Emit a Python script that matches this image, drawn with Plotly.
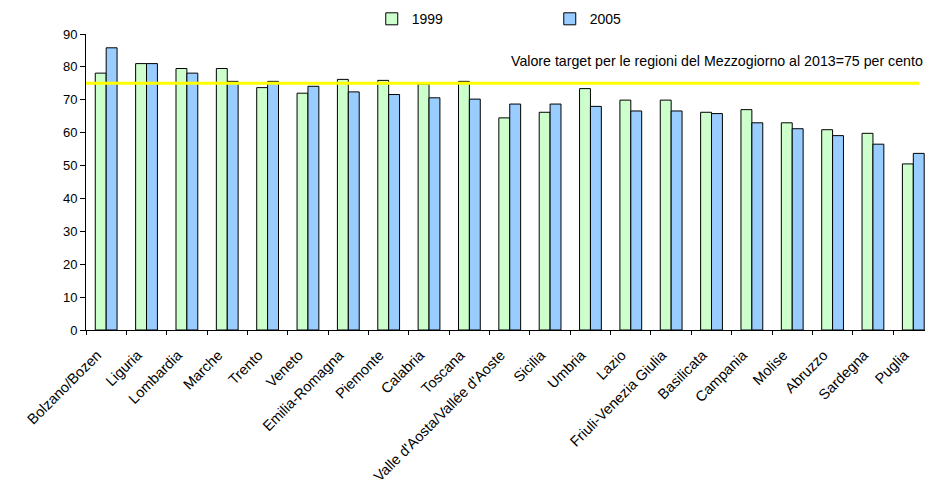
import plotly.graph_objects as go

regions = ["Bolzano/Bozen", "Liguria", "Lombardia", "Marche", "Trento", "Veneto",
           "Emilia-Romagna", "Piemonte", "Calabria", "Toscana",
           "Valle d'Aosta/Vallée d'Aoste", "Sicilia", "Umbria", "Lazio",
           "Friuli-Venezia Giulia", "Basilicata", "Campania", "Molise",
           "Abruzzo", "Sardegna", "Puglia"]
v1999 = [78.1, 81.0, 79.5, 79.5, 73.7, 72.0, 76.2, 75.9, 74.8, 75.6,
         64.5, 66.2, 73.4, 69.9, 69.9, 66.2, 67.0, 63.0, 60.9, 59.8, 50.5]
v2005 = [85.8, 81.0, 78.1, 75.6, 75.6, 74.1, 72.4, 71.6, 70.6, 70.2,
         68.7, 68.7, 68.0, 66.6, 66.6, 65.8, 63.0, 61.2, 59.1, 56.5, 53.7]
target = 75
target_label = "Valore target per le regioni del Mezzogiorno al 2013=75 per cento"

fig = go.Figure()
fig.add_trace(go.Bar(x=regions, y=v1999, name="1999",
                     marker=dict(color="#CCFFCC", line=dict(color="black", width=1))))
fig.add_trace(go.Bar(x=regions, y=v2005, name="2005",
                     marker=dict(color="#99CCFF", line=dict(color="black", width=1))))

fig.add_shape(type="line", xref="x domain", yref="y", x0=0, x1=0.993,
              y0=target, y1=target, line=dict(color="#FFFF00", width=3))
fig.add_annotation(text=target_label, xref="paper", yref="y", x=0.9995, y=81.7,
                   xanchor="right", yanchor="middle", showarrow=False,
                   font=dict(size=14.2, color="black"))

fig.update_layout(
    width=925, height=483,
    margin=dict(l=86, r=0, t=34, b=153, autoexpand=False),
    paper_bgcolor="white", plot_bgcolor="white",
    font=dict(family="Liberation Sans, Arial, sans-serif", size=13, color="black"),
    barmode="group", bargap=0.46, bargroupgap=0,
    showlegend=True,
    legend=dict(orientation="h", x=0.3406, y=1.05, xanchor="left", yanchor="middle",
                entrywidth=133, entrywidthmode="pixels", font=dict(size=14),
                bgcolor="rgba(0,0,0,0)", itemwidth=30),
)
fig.update_xaxes(range=[-0.5, 20.29], showline=True, linecolor="black", linewidth=1,
                 ticks="outside", ticklen=4, tickcolor="black", tickson="boundaries",
                 tickangle=-45, showgrid=False, fixedrange=True, automargin=False,
                 tickfont=dict(size=14.5), ticklabelstandoff=10, ticklabelshift=-9)
fig.update_yaxes(range=[0, 90], dtick=10, showline=True, linecolor="black", linewidth=1,
                 ticks="outside", ticklen=5, tickcolor="black", showgrid=False,
                 zeroline=False, fixedrange=True, automargin=False,
                 tickfont=dict(size=13))

# remove the browser's default 8px body margin so the figure fills the window exactly
fig.write_html("out.html",
               config={"displayModeBar": False},
               post_script="document.body.style.margin='0px';"
                           "document.body.style.overflow='hidden';")
